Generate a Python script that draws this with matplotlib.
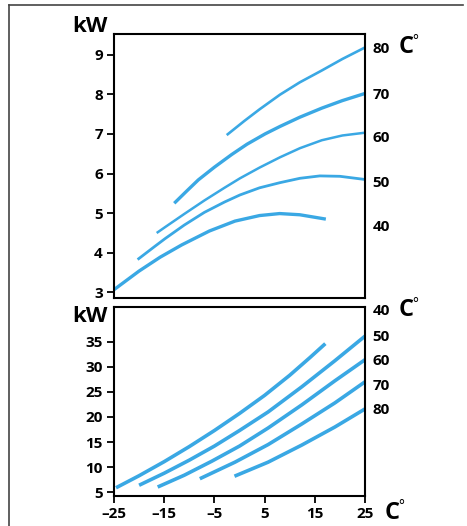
import matplotlib
matplotlib.use('Agg')
import matplotlib.pyplot as plt
from matplotlib.lines import Line2D
from matplotlib.transforms import blended_transform_factory

plt.rcParams['font.family'] = ['Open Sans', 'DejaVu Sans']

# Data (outdoor temp in C, output in kW)
temps = ['40', '50', '60', '70', '80']

# top panel
top_x = {
    '40': [-25, -20, -15.8, -11.5, -6, -0.9, 4, 8, 12, 17.2],
    '50': [-20.3, -17, -14.8, -11, -7, -3, 0.1, 4, 8.07, 12.05, 16, 20, 25],
    '60': [-16.5, -14.8, -11, -7, -3, 0.1, 4, 8.07, 12.05, 16.4, 20.5, 25],
    '70': [-13, -10.5, -8.2, -5, -1.55, 1.5, 5.1, 8.1, 12, 16.4, 20.5, 25],
    '80': [-2.55, 1, 4, 8.07, 12, 16.4, 20.5, 25],
}
top_y = {
    '40': [3.07, 3.54, 3.89, 4.2, 4.55, 4.8, 4.94, 4.99, 4.96, 4.85],
    '50': [3.83, 4.15, 4.36, 4.7, 5.02, 5.28, 5.46, 5.64, 5.77, 5.88, 5.94, 5.93, 5.85],
    '60': [4.5, 4.65, 4.98, 5.32, 5.64, 5.88, 6.15, 6.41, 6.64, 6.84, 6.96, 7.03],
    '70': [5.25, 5.56, 5.84, 6.16, 6.48, 6.74, 7.0, 7.19, 7.42, 7.65, 7.84, 8.02],
    '80': [6.97, 7.33, 7.62, 7.99, 8.3, 8.6, 8.89, 9.18],
}
top_lw = {'40': 2.4, '50': 2.0, '60': 1.8, '70': 2.4, '80': 1.9}
top_label_y = [4.66, 5.77, 6.9, 7.99, 9.14]

# bottom panel
bot_x = {
    '40': [-24.6, -20, -15, -10, -5, 0, 5, 10, 14, 17.1],
    '50': [-20, -15, -10, -5, 0, 5.7, 12.4, 19, 25],
    '60': [-16.3, -11, -5.5, 0, 5.7, 12.4, 19, 25],
    '70': [-7.9, -0.9, 5.7, 12.4, 19, 25],
    '80': [-1, 5.7, 12.4, 19, 25],
}
bot_y = {
    '40': [5.9, 8.3, 11.1, 14.1, 17.3, 20.7, 24.3, 28.3, 31.8, 34.6],
    '50': [6.4, 8.8, 11.4, 14.2, 17.3, 21.0, 26.0, 31.2, 36.1],
    '60': [6.05, 8.4, 11.2, 14.2, 17.8, 22.4, 27.2, 31.4],
    '70': [7.7, 11.0, 14.5, 18.6, 22.8, 27.0],
    '80': [8.2, 11.0, 14.4, 18.0, 21.6],
}
bot_label_y = [41.1, 36.0, 31.2, 26.2, 21.4]

top_yticks = [3, 4, 5, 6, 7, 8, 9]
bot_yticks = [5, 10, 15, 20, 25, 30, 35]
xticks = [-25, -15, -5, 5, 15, 25]

blue = '#3aa8e4'
W, H = 467, 526

fig = plt.figure(figsize=(W / 100, H / 100), dpi=100)
ax1 = fig.add_axes([114 / W, 1 - 298 / H, 251 / W, 264 / H])
ax2 = fig.add_axes([114 / W, 1 - 496 / H, 251 / W, 189 / H])

for t in temps:
    ax1.plot(top_x[t], top_y[t], color=blue, lw=top_lw[t], solid_capstyle='butt')
    ax2.plot(bot_x[t], bot_y[t], color=blue, lw=2.6, solid_capstyle='butt')

ax1.set_xlim(-25, 25)
ax1.set_ylim(2.86, 9.52)
ax2.set_xlim(-25, 25)
ax2.set_ylim(4.26, 41.9)

ax1.set_yticks(top_yticks)
ax1.set_xticks([])
ax2.set_yticks(bot_yticks)
ax2.set_xticks(xticks)
ax2.set_xticklabels([('\u2013' + str(-v)) if v < 0 else str(v) for v in xticks])

for ax in (ax1, ax2):
    for s in ax.spines.values():
        s.set_linewidth(1.5)
    ax.tick_params(axis='both', direction='out', length=5, width=1.3,
                   labelsize=11, pad=3)
    for lab in ax.get_yticklabels() + ax.get_xticklabels():
        lab.set_fontweight('bold')

tr1 = blended_transform_factory(ax1.transAxes, ax1.transData)
tr2 = blended_transform_factory(ax2.transAxes, ax2.transData)
for t, y in zip(temps, top_label_y):
    ax1.text(1.03, y, t, transform=tr1, fontsize=11, fontweight='bold',
             va='center', ha='left')
for t, y in zip(temps, bot_label_y):
    ax2.text(1.03, y, t, transform=tr2, fontsize=11, fontweight='bold',
             va='center', ha='left')

big = dict(fontsize=16, fontweight='bold', va='center', ha='left')
fig.text(72 / W, 1 - 27 / H, 'kW', **big)
fig.text(72 / W, 1 - 317 / H, 'kW', **big)


def deg_c(x, y):
    # big C with a small raised degree ring
    fig.text(x / W, 1 - y / H, 'C', fontsize=17, fontweight='bold', va='center', ha='left')
    fig.text((x + 13.5) / W, 1 - (y - 6) / H, '\u00b0', fontsize=10, va='center', ha='left')


deg_c(399, 47)
deg_c(399, 310)
deg_c(385, 513)

# outer frame (only left and top edges visible)
fig.add_artist(Line2D([9 / W, 9 / W], [0, 1 - 5 / H], color='#444444', lw=1.2))
fig.add_artist(Line2D([9 / W, 463 / W], [1 - 5 / H, 1 - 5 / H], color='#444444', lw=1.2))

fig.savefig('out.png', dpi=100)
